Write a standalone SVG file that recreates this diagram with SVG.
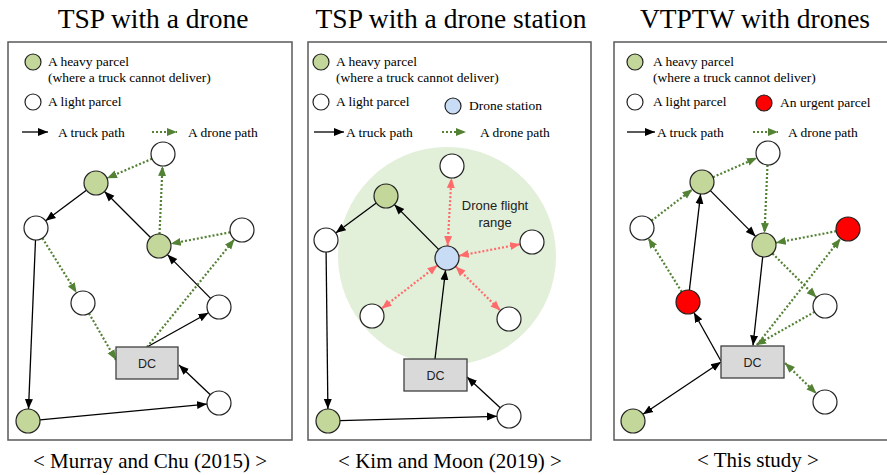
<svg xmlns="http://www.w3.org/2000/svg" width="887" height="475" viewBox="0 0 887 475">
<defs>
<style>
.title{font-family:"Liberation Serif","Times New Roman",serif;font-size:27.5px;fill:#000;text-anchor:middle}
.cap{font-family:"Liberation Serif","Times New Roman",serif;font-size:21px;fill:#000;text-anchor:middle}
.lg{font-family:"Liberation Serif","Times New Roman",serif;font-size:13.5px;fill:#000}
.dc{font-family:"Liberation Sans",Arial,sans-serif;font-size:12.5px;fill:#222;text-anchor:middle}
.rng{font-family:"Liberation Sans",Arial,sans-serif;font-size:13px;fill:#222;text-anchor:middle}
.frame{fill:none;stroke:#595959;stroke-width:1.5}
.nd{stroke:#222;stroke-width:1.2}
.w{fill:#fff}
.g{fill:#c4d79b}
.b{fill:#c9dcf5}
.r{fill:#ff0000}
.box{fill:#d9d9d9;stroke:#404040;stroke-width:1.3}
.tr{stroke:#000;stroke-width:1.3;fill:none}
.dr{stroke:#548235;stroke-width:2.2;stroke-dasharray:2 2;fill:none}
.rd{stroke:#ff6b6b;stroke-width:2.2;stroke-dasharray:2 2;fill:none}
</style>
<marker id="ab" markerUnits="userSpaceOnUse" markerWidth="10" markerHeight="10" viewBox="0 0 10 10" refX="10" refY="5" orient="auto-start-reverse"><path d="M0,1 L10,5 L0,9 Z" fill="#000"/></marker>
<marker id="ag" markerUnits="userSpaceOnUse" markerWidth="10" markerHeight="10" viewBox="0 0 10 10" refX="10" refY="5" orient="auto-start-reverse"><path d="M0,1 L10,5 L0,9 Z" fill="#548235"/></marker>
<marker id="ar" markerUnits="userSpaceOnUse" markerWidth="10" markerHeight="10" viewBox="0 0 10 10" refX="10" refY="5" orient="auto-start-reverse"><path d="M0,1 L10,5 L0,9 Z" fill="#ff6b6b"/></marker>
</defs>
<rect width="887" height="475" fill="#fff"/>

<!-- Titles and captions -->
<text class="title" x="153" y="28">TSP with a drone</text>
<text class="title" x="451" y="28">TSP with a drone station</text>
<text class="title" x="755" y="28">VTPTW with drones</text>
<text class="cap" x="150" y="468">&lt; Murray and Chu (2015) &gt;</text>
<text class="cap" x="450" y="468">&lt; Kim and Moon (2019) &gt;</text>
<text class="cap" x="758" y="467">&lt; This study &gt;</text>

<!-- Frames -->
<rect class="frame" x="8" y="42" width="284" height="398"/>
<rect class="frame" x="308" y="42" width="283" height="398"/>
<path class="frame" d="M890,42 H614 V440 H890"/>

<!-- Legends -->
<g id="legend1">
<circle class="nd g" cx="33" cy="62" r="8"/>
<text class="lg" x="48" y="66">A heavy parcel</text>
<text class="lg" x="48" y="82">(where a truck cannot deliver)</text>
<circle class="nd w" cx="33" cy="102" r="8"/>
<text class="lg" x="48" y="106">A light parcel</text>
<line class="tr" x1="22" y1="132" x2="48" y2="132" marker-end="url(#ab)"/>
<text class="lg" x="58" y="137">A truck path</text>
<line class="dr" x1="152" y1="132" x2="177" y2="132" marker-end="url(#ag)"/>
<text class="lg" x="188" y="137">A drone path</text>
</g>
<g id="legend2">
<circle class="nd g" cx="321" cy="62" r="8"/>
<text class="lg" x="336" y="66">A heavy parcel</text>
<text class="lg" x="336" y="82">(where a truck cannot deliver)</text>
<circle class="nd w" cx="321" cy="102" r="8"/>
<text class="lg" x="336" y="106">A light parcel</text>
<circle class="nd b" cx="453" cy="106" r="8"/>
<text class="lg" x="469" y="110">Drone station</text>
<line class="tr" x1="314" y1="132" x2="344" y2="132" marker-end="url(#ab)"/>
<text class="lg" x="346" y="137">A truck path</text>
<line class="dr" x1="442" y1="132" x2="466" y2="132" marker-end="url(#ag)"/>
<text class="lg" x="480" y="137">A drone path</text>
</g>
<g id="legend3">
<circle class="nd g" cx="635" cy="62" r="8"/>
<text class="lg" x="653" y="66">A heavy parcel</text>
<text class="lg" x="653" y="82">(where a truck cannot deliver)</text>
<circle class="nd w" cx="635" cy="102" r="8"/>
<text class="lg" x="653" y="106">A light parcel</text>
<circle class="nd r" cx="764" cy="103" r="8"/>
<text class="lg" x="780" y="107">An urgent parcel</text>
<line class="tr" x1="627" y1="132" x2="655" y2="132" marker-end="url(#ab)"/>
<text class="lg" x="657" y="137">A truck path</text>
<line class="dr" x1="753" y1="132" x2="778" y2="132" marker-end="url(#ag)"/>
<text class="lg" x="788" y="137">A drone path</text>
</g>

<!-- Drone flight range -->
<g id="range">
<circle cx="447" cy="256" r="109" fill="#e2efd9"/>
<text class="rng" x="495" y="210">Drone flight</text>
<text class="rng" x="495" y="227">range</text>
</g>

<!-- Connectors -->
<g id="connectors">
<!-- panel 1 truck -->
<line class="tr" x1="86.4" y1="190.2" x2="45.6" y2="220.8" marker-end="url(#ab)"/>
<line class="tr" x1="35.5" y1="240" x2="28.5" y2="409" marker-end="url(#ab)"/>
<line class="tr" x1="40" y1="419.9" x2="207" y2="404.1" marker-end="url(#ab)"/>
<line class="tr" x1="210.3" y1="394.7" x2="179" y2="365" marker-end="url(#ab)"/>
<line class="tr" x1="147" y1="347" x2="208.5" y2="312.8" marker-end="url(#ab)"/>
<line class="tr" x1="210.6" y1="298.4" x2="167.4" y2="254.6" marker-end="url(#ab)"/>
<line class="tr" x1="150.5" y1="237.5" x2="104.5" y2="191.5" marker-end="url(#ab)"/>
<!-- panel 1 drone -->
<line class="dr" x1="152" y1="158.8" x2="107" y2="178.2" marker-end="url(#ag)"/>
<line class="dr" x1="159.5" y1="234" x2="162.5" y2="166" marker-end="url(#ag)"/>
<line class="dr" x1="230.2" y1="232.3" x2="170.8" y2="243.7" marker-end="url(#ag)"/>
<line class="dr" x1="147" y1="347" x2="234.4" y2="239.3" marker-end="url(#ag)"/>
<line class="dr" x1="42.4" y1="238.2" x2="76.6" y2="292.8" marker-end="url(#ag)"/>
<line class="dr" x1="89" y1="313.4" x2="116" y2="360" marker-end="url(#ag)"/>
<!-- panel 2 truck -->
<line class="tr" x1="435" y1="359" x2="445.6" y2="270" marker-end="url(#ab)"/>
<line class="tr" x1="438.6" y1="249.4" x2="394.4" y2="204.6" marker-end="url(#ab)"/>
<line class="tr" x1="376.3" y1="203.1" x2="335.7" y2="232.9" marker-end="url(#ab)"/>
<line class="tr" x1="326.1" y1="252" x2="327.9" y2="409" marker-end="url(#ab)"/>
<line class="tr" x1="340" y1="420.7" x2="497" y2="416.3" marker-end="url(#ab)"/>
<line class="tr" x1="500.2" y1="407.8" x2="467" y2="377" marker-end="url(#ab)"/>
<!-- panel 2 drone station -->
<line class="rd" x1="447.6" y1="246" x2="451.4" y2="178" marker-start="url(#ar)" marker-end="url(#ar)"/>
<line class="rd" x1="458.8" y1="255.8" x2="520.2" y2="244.2" marker-start="url(#ar)" marker-end="url(#ar)"/>
<line class="rd" x1="437.5" y1="265.3" x2="381.5" y2="308.7" marker-start="url(#ar)" marker-end="url(#ar)"/>
<line class="rd" x1="455.6" y1="266.4" x2="500.4" y2="310.6" marker-start="url(#ar)" marker-end="url(#ar)"/>
<!-- panel 3 truck -->
<line class="tr" x1="643" y1="414.3" x2="721" y2="362" marker-start="url(#ab)" marker-end="url(#ab)"/>
<line class="tr" x1="721" y1="361" x2="693.9" y2="312.5" marker-end="url(#ab)"/>
<line class="tr" x1="689.4" y1="290.1" x2="700.6" y2="193.9" marker-end="url(#ab)"/>
<line class="tr" x1="710.4" y1="190.6" x2="755.6" y2="236.4" marker-end="url(#ab)"/>
<line class="tr" x1="762.7" y1="256.9" x2="753" y2="345.5" marker-end="url(#ab)"/>
<!-- panel 3 drone -->
<line class="dr" x1="681.7" y1="291.8" x2="648.3" y2="238.2" marker-end="url(#ag)"/>
<line class="dr" x1="651.5" y1="220.7" x2="692.5" y2="189.3" marker-end="url(#ag)"/>
<line class="dr" x1="713" y1="177.2" x2="757" y2="157.8" marker-end="url(#ag)"/>
<line class="dr" x1="767.5" y1="165" x2="764.5" y2="233" marker-end="url(#ag)"/>
<line class="dr" x1="836.2" y1="231.2" x2="775.8" y2="242.8" marker-end="url(#ag)"/>
<line class="dr" x1="772.5" y1="253.5" x2="816.5" y2="297.5" marker-end="url(#ag)"/>
<line class="dr" x1="814.6" y1="311.9" x2="756" y2="345" marker-end="url(#ag)"/>
<line class="dr" x1="757" y1="345" x2="840.6" y2="238.5" marker-end="url(#ag)"/>
<line class="dr" x1="785" y1="363" x2="816.4" y2="393.6" marker-start="url(#ag)" marker-end="url(#ag)"/>
</g>

<!-- Panel 1 nodes -->
<g id="p1-light-top"><circle class="nd w" cx="163" cy="154" r="12"/></g>
<g id="p1-heavy-1"><circle class="nd g" cx="96" cy="183" r="12"/></g>
<g id="p1-light-left"><circle class="nd w" cx="36" cy="228" r="12"/></g>
<g id="p1-heavy-2"><circle class="nd g" cx="159" cy="246" r="12"/></g>
<g id="p1-light-right"><circle class="nd w" cx="242" cy="230" r="12"/></g>
<g id="p1-light-mid"><circle class="nd w" cx="83" cy="303" r="12"/></g>
<g id="p1-light-rmid"><circle class="nd w" cx="219" cy="307" r="12"/></g>
<g id="p1-dc"><rect class="box" x="116" y="347" width="62" height="32"/><text class="dc" x="147" y="368">DC</text></g>
<g id="p1-heavy-3"><circle class="nd g" cx="28" cy="421" r="12"/></g>
<g id="p1-light-bottom"><circle class="nd w" cx="219" cy="403" r="12"/></g>

<!-- Panel 2 nodes -->
<g id="p2-light-top"><circle class="nd w" cx="452" cy="166" r="12"/></g>
<g id="p2-heavy-1"><circle class="nd g" cx="386" cy="196" r="12"/></g>
<g id="p2-light-left"><circle class="nd w" cx="326" cy="240" r="12"/></g>
<g id="p2-station"><circle class="nd b" cx="447" cy="258" r="12"/></g>
<g id="p2-light-right"><circle class="nd w" cx="532" cy="242" r="12"/></g>
<g id="p2-light-ll"><circle class="nd w" cx="372" cy="316" r="12"/></g>
<g id="p2-light-lr"><circle class="nd w" cx="509" cy="319" r="12"/></g>
<g id="p2-dc"><rect class="box" x="404" y="359" width="63" height="32"/><text class="dc" x="435.5" y="380">DC</text></g>
<g id="p2-heavy-2"><circle class="nd g" cx="328" cy="421" r="12"/></g>
<g id="p2-light-bottom"><circle class="nd w" cx="509" cy="416" r="12"/></g>

<!-- Panel 3 nodes -->
<g id="p3-light-top"><circle class="nd w" cx="768" cy="153" r="12"/></g>
<g id="p3-heavy-1"><circle class="nd g" cx="702" cy="182" r="12"/></g>
<g id="p3-light-left"><circle class="nd w" cx="642" cy="228" r="12"/></g>
<g id="p3-heavy-2"><circle class="nd g" cx="764" cy="245" r="12"/></g>
<g id="p3-urgent-right"><circle class="nd r" cx="848" cy="229" r="12"/></g>
<g id="p3-urgent-left"><circle class="nd r" cx="688" cy="302" r="12"/></g>
<g id="p3-light-rmid"><circle class="nd w" cx="825" cy="306" r="12"/></g>
<g id="p3-dc"><rect class="box" x="721" y="346" width="63" height="32"/><text class="dc" x="752.5" y="367">DC</text></g>
<g id="p3-light-bottom"><circle class="nd w" cx="825" cy="402" r="12"/></g>
<g id="p3-heavy-3"><circle class="nd g" cx="633" cy="421" r="12"/></g>
</svg>
